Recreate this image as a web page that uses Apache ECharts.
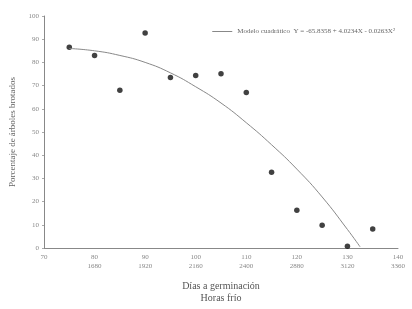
<!DOCTYPE html>
<html>
<head>
<meta charset="utf-8">
<script src="https://cdn.jsdelivr.net/npm/echarts@6/dist/echarts.min.js"></script>
<style>
  html, body { margin: 0; padding: 0; background: #fff; }
  #chart { width: 412px; height: 309px; }
</style>
</head>
<body>
<div id="chart"></div>
<script>
// observed points: days to germination vs % budded trees
const obsDays = [75, 80, 85, 90, 95, 100, 105, 110, 115, 120, 125, 130, 135]
const obsPct = [86.5, 83, 68, 92.7, 73.5, 74.3, 75.1, 67, 32.7, 16.3, 9.8, 0.8, 8.2]

// fitted curve
const fitDays = [75, 80, 85, 90, 95, 100, 105, 110, 115, 120, 125, 130, 132.5]
const fitPct = [86, 85, 83, 80, 75.5, 69.5, 62.5, 54, 44.5, 34, 22, 8, 0.5]

// x tick labels: days and chill hours
const dayTicks = [70, 80, 90, 100, 110, 120, 130, 140]
const hourTicks = ['', '1680', '1920', '2160', '2400', '2880', '3120', '3360']

const modelName = 'Modelo cuadrático  Y = -65.8358 + 4.0234X - 0.0263X²'
const serif = '"Liberation Serif", "DejaVu Serif", serif'

const chart = echarts.init(document.getElementById('chart'))

const option = {
  animation: false,
  backgroundColor: '#fff',
  textStyle: { fontFamily: serif },
  grid: { left: 41, right: 14, top: 16, bottom: 48 },
  legend: {
    right: 12,
    top: 23,
    icon: 'rect',
    itemWidth: 20,
    itemHeight: 1,
    itemGap: 4,
    data: [modelName],
    textStyle: { fontSize: 7, color: '#666', fontFamily: serif }
  },
  xAxis: {
    type: 'value',
    min: 70,
    max: 140,
    interval: 10,
    name: 'Días a germinación\nHoras frío',
    nameLocation: 'middle',
    nameGap: 32,
    nameTextStyle: { fontSize: 10, color: '#555', fontFamily: serif, lineHeight: 12 },
    axisLine: { lineStyle: { color: '#888', width: 1 } },
    axisTick: { show: false },
    splitLine: { show: false },
    axisLabel: {
      fontSize: 7,
      color: '#888',
      lineHeight: 9,
      margin: 5,
      formatter: v => {
        const i = dayTicks.indexOf(v)
        if (i < 0) return ''
        return hourTicks[i] ? dayTicks[i] + '\n' + hourTicks[i] : String(dayTicks[i])
      }
    }
  },
  yAxis: {
    type: 'value',
    min: 0,
    max: 100,
    interval: 10,
    name: 'Porcentaje de árboles brotados',
    nameLocation: 'middle',
    nameGap: 27,
    nameTextStyle: { fontSize: 9, color: '#666', fontFamily: serif },
    axisLine: { show: true, lineStyle: { color: '#888', width: 1 } },
    axisTick: { show: true, length: 2, lineStyle: { color: '#aaa' } },
    splitLine: { show: false },
    axisLabel: { fontSize: 7, color: '#888', margin: 5 }
  },
  series: [
    {
      name: modelName,
      type: 'line',
      smooth: true,
      symbol: 'none',
      lineStyle: { color: '#888', width: 1 },
      itemStyle: { color: '#888' },
      data: fitDays.map((d, i) => [d, fitPct[i]])
    },
    {
      name: 'Observado',
      type: 'scatter',
      symbolSize: 5.5,
      itemStyle: { color: '#111' },
      data: obsDays.map((d, i) => [d, obsPct[i]])
    }
  ]
}

chart.setOption(option)
</script>
</body>
</html>
